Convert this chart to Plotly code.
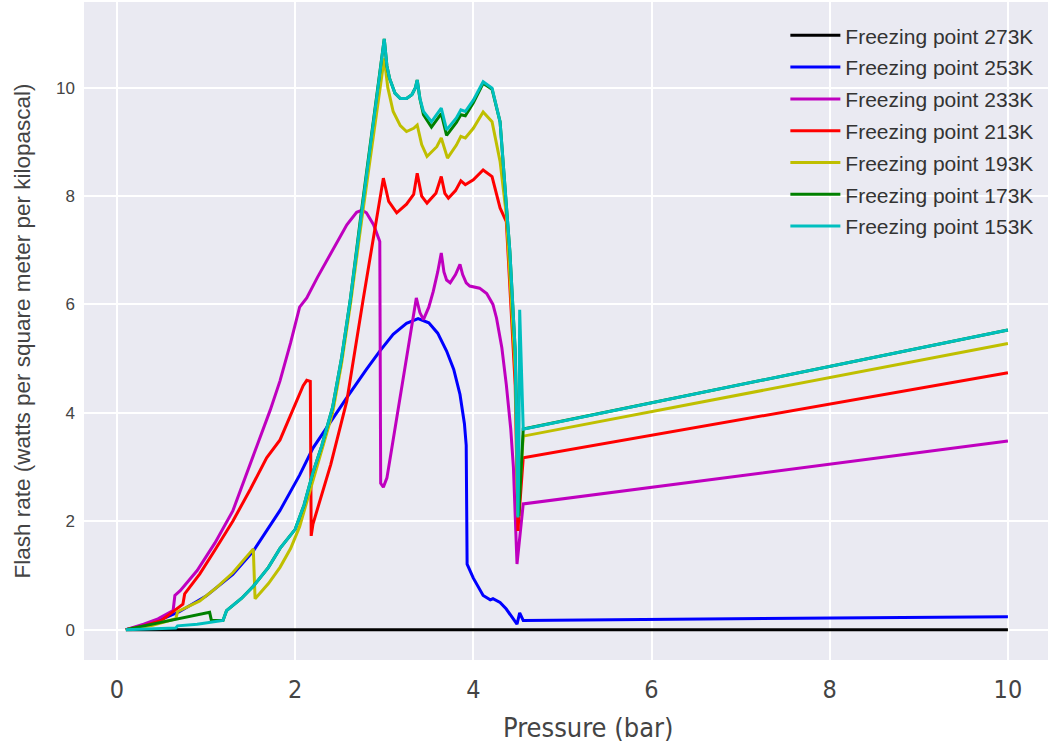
import plotly.graph_objects as go

# ---- data ----
labels = ["Freezing point 273K", "Freezing point 253K", "Freezing point 233K",
          "Freezing point 213K", "Freezing point 193K", "Freezing point 173K",
          "Freezing point 153K"]
colors = ["#000000", "#0000ff", "#bf00bf", "#ff0000", "#bfbf00", "#008000", "#00bfbf"]

x273 = [0.1, 10.0]
y273 = [0.0, 0.0]

x253 = [0.1, 0.4, 0.7, 1.0, 1.3, 1.53, 1.83, 2.05, 2.2, 2.4, 2.58, 2.8, 2.95, 3.1, 3.25,
        3.38, 3.5, 3.6, 3.7, 3.78, 3.85, 3.9, 3.92, 3.93, 4.0, 4.11, 4.19, 4.22, 4.26,
        4.30, 4.37, 4.49, 4.52, 4.56, 10.0]
y253 = [0.0, 0.12, 0.33, 0.62, 1.02, 1.45, 2.2, 2.85, 3.35, 3.85, 4.28, 4.8, 5.14, 5.45, 5.65,
        5.74, 5.66, 5.47, 5.14, 4.8, 4.34, 3.8, 3.4, 1.21, 0.95, 0.63, 0.55, 0.57, 0.54,
        0.5, 0.38, 0.1, 0.31, 0.17, 0.24]

x233 = [0.1, 0.3, 0.46, 0.63, 0.65, 0.71, 0.9, 1.1, 1.3, 1.45, 1.6, 1.72, 1.83, 1.95, 2.05,
        2.13, 2.25, 2.42, 2.58, 2.69, 2.75, 2.80, 2.88, 2.95, 2.96, 2.99, 3.03, 3.08, 3.14,
        3.22, 3.29, 3.33, 3.36, 3.40, 3.44, 3.50, 3.55, 3.60, 3.64, 3.67, 3.70, 3.74, 3.80,
        3.85, 3.88, 3.92, 3.96, 4.07, 4.15, 4.22, 4.26, 4.32, 4.37, 4.42, 4.45, 4.49, 4.56,
        10.0]
y233 = [0.0, 0.1, 0.2, 0.35, 0.63, 0.72, 1.09, 1.6, 2.19, 2.85, 3.54, 4.05, 4.59, 5.3, 5.95,
        6.12, 6.5, 7.0, 7.47, 7.70, 7.74, 7.69, 7.47, 7.16, 2.7, 2.63, 2.8, 3.3, 3.91,
        4.7, 5.45, 5.9, 6.12, 5.85, 5.72, 5.95, 6.24, 6.6, 6.95, 6.6, 6.45, 6.40, 6.55,
        6.74, 6.55, 6.4, 6.34, 6.30, 6.2, 6.0, 5.75, 5.2, 4.52, 3.7, 2.99, 1.21, 2.32,
        3.48]

x213 = [0.1, 0.3, 0.5, 0.74, 0.76, 0.93, 1.1, 1.3, 1.5, 1.68, 1.83, 1.98, 2.09, 2.13, 2.17,
        2.18, 2.2, 2.4, 2.58, 2.76, 2.95, 2.99, 3.05, 3.14, 3.25, 3.33, 3.37, 3.42, 3.48,
        3.58, 3.64, 3.68, 3.72, 3.80, 3.86, 3.91, 4.0, 4.11, 4.21, 4.30, 4.37, 4.41, 4.47,
        4.50, 4.56, 10.0]
y213 = [0.0, 0.07, 0.17, 0.47, 0.66, 1.03, 1.47, 2.0, 2.6, 3.17, 3.5, 4.09, 4.5, 4.60, 4.58,
        1.73, 1.95, 3.05, 4.22, 6.06, 7.9, 8.33, 7.9, 7.69, 7.85, 8.03, 8.42, 8.0, 7.87,
        8.05, 8.36, 8.05, 7.96, 8.1, 8.28, 8.21, 8.30, 8.48, 8.36, 7.78, 7.53, 6.4, 4.5,
        1.82, 3.17, 4.74]

x193 = [0.1, 0.4, 0.66, 0.68, 0.93, 1.12, 1.3, 1.53, 1.55, 1.7, 1.83, 1.95, 2.05, 2.2, 2.3,
        2.42, 2.52, 2.62, 2.75, 2.85, 2.93, 3.0, 3.04, 3.10, 3.18, 3.25, 3.33, 3.37, 3.42,
        3.48, 3.59, 3.64, 3.71, 3.81, 3.86, 3.91, 4.0, 4.11, 4.21, 4.30, 4.37, 4.41, 4.47,
        4.50, 4.56, 10.0]
y193 = [0.0, 0.08, 0.2, 0.33, 0.53, 0.78, 1.05, 1.49, 0.57, 0.85, 1.15, 1.5, 1.9, 2.75, 3.3,
        4.0, 4.9, 6.0, 7.6, 8.8, 9.8, 10.54, 10.0, 9.56, 9.3, 9.19, 9.25, 9.31, 8.95,
        8.73, 8.91, 9.07, 8.70, 8.94, 9.1, 9.07, 9.25, 9.55, 9.37, 8.64, 7.66, 6.6, 4.8,
        2.1, 3.57, 5.28]

x173 = [0.1, 1.04, 1.06, 1.19, 1.23, 1.4, 1.53, 1.7, 1.83, 2.0, 2.1, 2.2, 2.3, 2.42, 2.52,
        2.62, 2.75, 2.85, 2.93, 3.0, 3.03, 3.06, 3.12, 3.18, 3.25, 3.31, 3.35, 3.37, 3.40,
        3.44, 3.53, 3.64, 3.70, 3.81, 3.86, 3.91, 4.0, 4.11, 4.21, 4.30, 4.37, 4.41, 4.47,
        4.51, 4.56, 10.0]
y173 = [0.0, 0.32, 0.17, 0.17, 0.35, 0.58, 0.8, 1.15, 1.5, 1.85, 2.3, 2.9, 3.4, 4.1, 5.0,
        6.1, 7.8, 9.0, 10.0, 10.9, 10.4, 10.17, 9.9, 9.80, 9.80, 9.87, 10.0, 10.14, 9.8,
        9.50, 9.27, 9.52, 9.12, 9.36, 9.50, 9.48, 9.72, 10.08, 9.97, 9.37, 7.84, 6.98, 5.14,
        2.1, 3.7, 5.53]

x153 = [0.1, 0.4, 0.66, 0.68, 0.9, 1.19, 1.23, 1.4, 1.53, 1.7, 1.83, 2.0, 2.1, 2.2, 2.3,
        2.42, 2.52, 2.62, 2.75, 2.85, 2.93, 3.0, 3.03, 3.06, 3.12, 3.18, 3.25, 3.31, 3.35,
        3.37, 3.40, 3.44, 3.53, 3.64, 3.70, 3.81, 3.86, 3.91, 4.0, 4.11, 4.21, 4.30, 4.37,
        4.41, 4.47, 4.50, 4.51, 4.52, 4.56, 10.0]
y153 = [0.0, 0.02, 0.03, 0.07, 0.1, 0.17, 0.35, 0.58, 0.8, 1.15, 1.5, 1.85, 2.3, 2.9, 3.4,
        4.1, 5.0, 6.1, 7.8, 9.0, 10.0, 10.9, 10.4, 10.17, 9.9, 9.80, 9.80, 9.87, 10.0,
        10.14, 9.8, 9.56, 9.37, 9.62, 9.22, 9.44, 9.59, 9.56, 9.77, 10.11, 9.99, 9.37, 7.84,
        6.98, 5.14, 2.07, 3.0, 5.9, 3.7, 5.53]

xs = [x273, x253, x233, x213, x193, x173, x153]
ys = [y273, y253, y233, y213, y193, y173, y153]

fig = go.Figure()
for i in range(len(labels)):
    fig.add_trace(go.Scatter(
        x=xs[i], y=ys[i], mode="lines", name=labels[i],
        legendgroup=labels[i],
        line=dict(color=colors[i], width=3),
    ))

narrow = "Liberation Sans Narrow, DejaVu Sans Condensed, Roboto, sans-serif"
sans = "Liberation Sans, Arial, sans-serif"
fig.update_layout(
    width=1050, height=755,
    paper_bgcolor="white",
    plot_bgcolor="#EAEAF2",
    margin=dict(l=84, r=2, t=2, b=95),
    showlegend=True,
    legend=dict(
        x=0.99, y=0.98, xanchor="right", yanchor="top",
        bgcolor="rgba(0,0,0,0)",
        font=dict(family=sans, size=21, color="#333333"),
        tracegroupgap=1.5,
        itemwidth=50,
    ),
    xaxis=dict(
        range=[-0.37, 10.45],
        tickvals=[0, 2, 4, 6, 8, 10],
        showgrid=True, gridcolor="white", gridwidth=1.5,
        zeroline=False, showline=False, ticks="",
        ticklabelstandoff=12,
        tickfont=dict(family=narrow, size=25, color="#444444"),
    ),
    yaxis=dict(
        range=[-0.56, 11.58],
        tickvals=[0, 2, 4, 6, 8, 10],
        showgrid=True, gridcolor="white", gridwidth=1.5,
        zeroline=False, showline=False, ticks="",
        ticklabelstandoff=8,
        tickfont=dict(family=sans, size=17, color="#444444"),
        title=dict(text="Flash rate (watts per square meter per kilopascal)",
                   font=dict(family=sans, size=22.5, color="#444444"),
                   standoff=19),
    ),
    annotations=[dict(
        text="Pressure (bar)", xref="paper", yref="paper",
        x=(588 - 84) / 964, y=-0.102, xanchor="center", yanchor="middle",
        showarrow=False,
        font=dict(family=narrow, size=27, color="#444444"),
    )],
)

fig.write_html("out.html")
